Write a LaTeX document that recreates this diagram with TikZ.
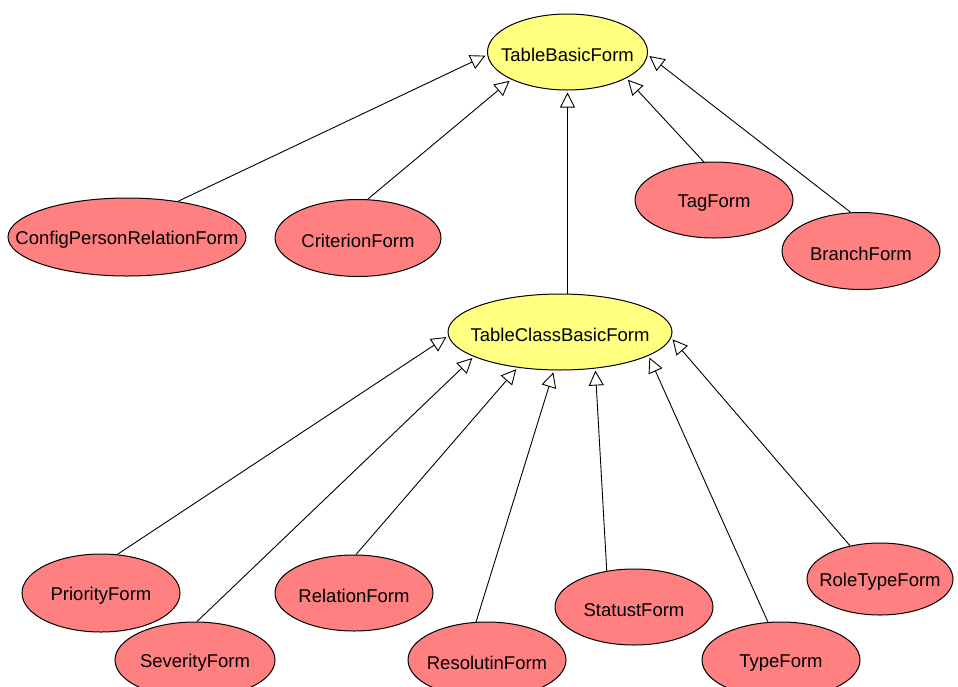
\documentclass[tikz,border=0pt]{standalone}
\usepackage{fontspec}
\setmainfont{Liberation Sans}
\usetikzlibrary{shapes.geometric,arrows.meta}

\definecolor{baseyellow}{RGB}{255,255,128}
\definecolor{formred}{RGB}{255,128,128}

\tikzset{
  form/.style={ellipse, draw=black, line width=1pt, inner sep=0pt,
    font=\fontsize{18.5}{22}\selectfont},
  baseform/.style={form, fill=baseyellow},
  leafform/.style={form, fill=formred},
  inherits/.style={line width=0.9pt, shorten >=2pt,
    -{Triangle[open, length=15pt, width=15pt, line width=0.9pt]}}
}
% class name centred in its ellipse, without widening the ellipse
\newcommand{\lbl}[1]{\raisebox{-3pt}[\height][\depth]{\makebox[0pt]{#1}}}

\begin{document}
\begin{tikzpicture}[x=1pt, y=-1pt]
  \useasboundingbox (0,0) rectangle (958,686);
  \clip (0,0) rectangle (958,686);
  \fill[white] (0,0) rectangle (958,686);

  % base classes
  \node[baseform, minimum width=160pt, minimum height=76pt] (tbf) at (567.5,52) {\lbl{TableBasicForm}};
  \node[baseform, minimum width=224pt, minimum height=76pt] (tcb) at (560,332) {\lbl{TableClassBasicForm}};

  % direct subclasses of TableBasicForm
  \node[leafform, minimum width=238pt, minimum height=78pt] (cpr) at (127,237) {\lbl{ConfigPersonRelationForm}};
  \node[leafform, minimum width=166pt, minimum height=77pt] (crit) at (358,238) {\lbl{CriterionForm}};
  \node[leafform, minimum width=158pt, minimum height=76pt] (tag) at (714,200) {\lbl{TagForm}};
  \node[leafform, minimum width=158pt, minimum height=77pt] (branch) at (861,251) {\lbl{BranchForm}};

  % subclasses of TableClassBasicForm
  \node[leafform, minimum width=158pt, minimum height=78pt] (prio) at (101,593) {\lbl{PriorityForm}};
  \node[leafform, minimum width=160pt, minimum height=76pt] (sev) at (195,660) {\lbl{SeverityForm}};
  \node[leafform, minimum width=158pt, minimum height=76pt] (rel) at (354,593) {\lbl{RelationForm}};
  \node[leafform, minimum width=158pt, minimum height=76pt] (res) at (487,660) {\lbl{ResolutinForm}};
  \node[leafform, minimum width=158pt, minimum height=76pt] (stat) at (634,607) {\lbl{StatustForm}};
  \node[leafform, minimum width=158pt, minimum height=76pt] (type) at (781,660) {\lbl{TypeForm}};
  \node[leafform, minimum width=146pt, minimum height=72pt] (role) at (880,579) {\lbl{RoleTypeForm}};

  % inheritance arrows
  \draw[inherits] (cpr.35) -- (tbf.182);
  \draw[inherits] (crit.76) -- (tbf.206);
  \draw[inherits] (tbf.south |- tcb.north) -- (tbf.south);
  \draw[inherits] (tag.105) -- (tbf.336);
  \draw[inherits] (branch.105) -- (tbf.358);

  \draw[inherits] (prio.67) -- (tcb.182);
  \draw[inherits] (sev.87) -- (tcb.196);
  \draw[inherits] (rel.87) -- (tcb.220);
  \draw[inherits] (res.106) -- (tcb.261);
  \draw[inherits] (stat.127) -- (tcb.314);
  \draw[inherits] (type.109) -- (tcb.345);
  \draw[inherits] (role.132) -- (tcb.357);
\end{tikzpicture}
\end{document}
